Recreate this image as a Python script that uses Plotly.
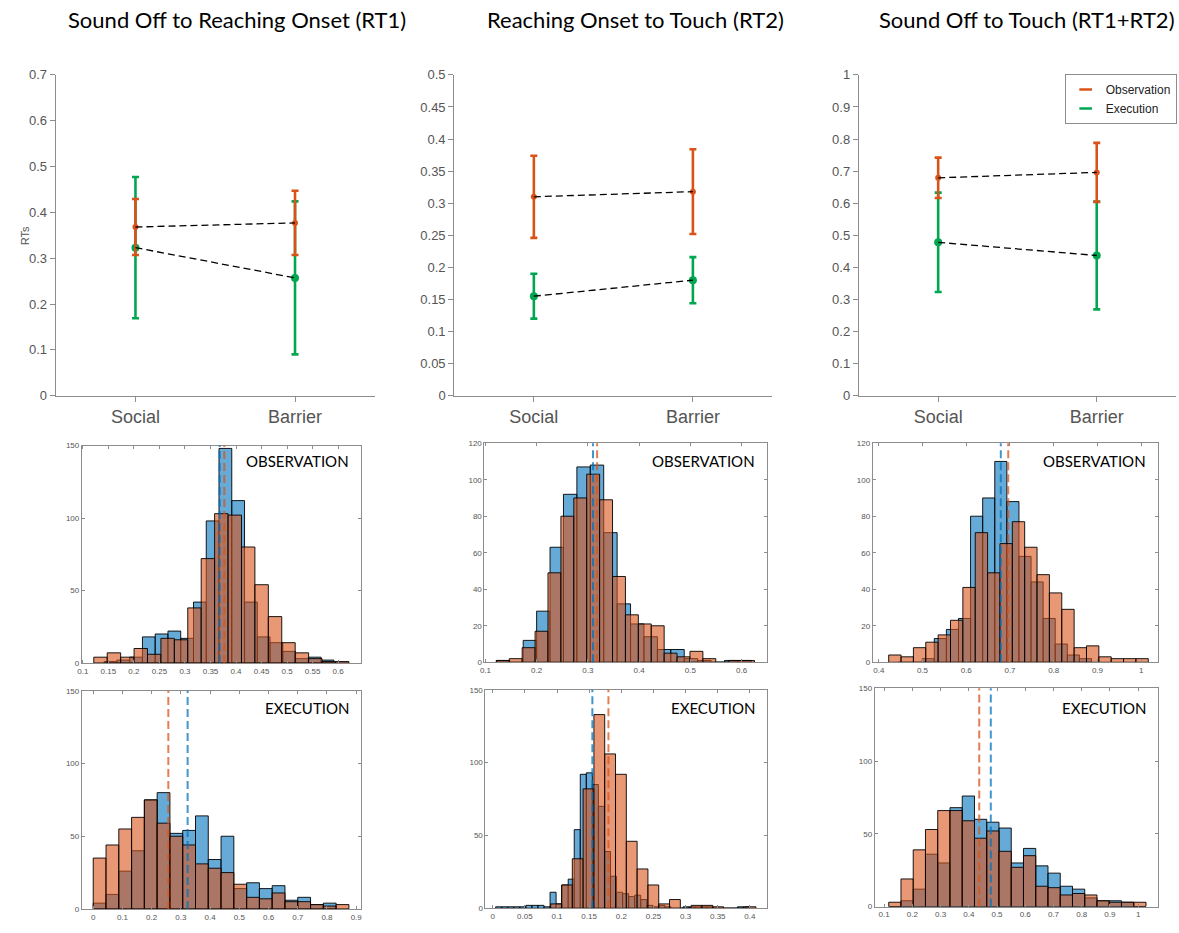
import plotly.graph_objects as go

W, H = 1179, 933

# ---------------------------------------------------------------- data
conditions = ["Social", "Barrier"]
panel_titles = ["Sound Off to Reaching Onset (RT1)",
                "Reaching Onset to Touch (RT2)",
                "Sound Off to Touch (RT1+RT2)"]
series_names = ["Observation", "Execution"]

# mean RT and error bar half-length, per condition (Social, Barrier)
rt1_obs_mean = [0.368, 0.377]
rt1_obs_err = [0.061, 0.070]
rt1_exe_mean = [0.323, 0.257]
rt1_exe_err = [0.154, 0.167]

rt2_obs_mean = [0.310, 0.318]
rt2_obs_err = [0.064, 0.066]
rt2_exe_mean = [0.155, 0.180]
rt2_exe_err = [0.035, 0.036]

tot_obs_mean = [0.679, 0.696]
tot_obs_err = [0.063, 0.092]
tot_exe_mean = [0.478, 0.437]
tot_exe_err = [0.155, 0.168]

top_y_max = [0.7, 0.5, 1.0]
top_y_ticks = [[0, 0.1, 0.2, 0.3, 0.4, 0.5, 0.6, 0.7],
               [0, 0.05, 0.1, 0.15, 0.2, 0.25, 0.3, 0.35, 0.4, 0.45, 0.5],
               [0, 0.1, 0.2, 0.3, 0.4, 0.5, 0.6, 0.7, 0.8, 0.9, 1]]

# histograms: first bin edge, bin width, counts  (soc = Social, bar = Barrier)
rt1_obs_soc_start, rt1_obs_soc_bw = 0.1417, 0.025
rt1_obs_soc_counts = [1, 2, 4, 18, 20, 22, 17, 42, 98, 148, 112, 42, 18, 14, 8, 3, 4, 2]
rt1_obs_bar_start, rt1_obs_bar_bw = 0.1214, 0.0263
rt1_obs_bar_counts = [4, 7, 4, 10, 6, 17, 16, 38, 72, 103, 102, 80, 54, 32, 14, 7, 3, 1, 1]

rt1_exe_soc_start, rt1_exe_soc_bw = 0.0, 0.04375
rt1_exe_soc_counts = [4, 10, 26, 40, 75, 80, 52, 54, 64, 34, 50, 14, 18, 14, 16, 6, 8, 3, 4]
rt1_exe_bar_start, rt1_exe_bar_bw = 0.0, 0.04375
rt1_exe_bar_counts = [35, 44, 55, 63, 75, 59, 50, 44, 31, 28, 25, 17, 8, 7, 11, 5, 5, 3, 2, 3]

rt2_obs_soc_start, rt2_obs_soc_bw = 0.1213, 0.0262
rt2_obs_soc_counts = [1, 0, 12, 28, 63, 92, 107, 108, 71, 32, 21, 14, 7, 7, 2, 1, 0, 1, 1]
rt2_obs_bar_start, rt2_obs_bar_bw = 0.1213, 0.0252
rt2_obs_bar_counts = [1, 2, 8, 17, 49, 80, 90, 103, 89, 47, 26, 21, 20, 5, 3, 6, 2, 0, 1, 1]

rt2_exe_soc_start, rt2_exe_soc_bw = 0.0046, 0.0094
rt2_exe_soc_counts = [1, 1, 1, 1, 1, 2, 2, 2, 1, 11, 3, 16, 20, 54, 92, 93, 85, 70, 39, 22,
                      11, 10, 8, 9, 6, 2, 1, 2, 1, 0, 0, 1, 1, 1, 1, 1, 0, 0, 0, 0, 1, 1]
rt2_exe_bar_start, rt2_exe_bar_bw = 0.0902, 0.0168
rt2_exe_bar_counts = [3, 16, 34, 82, 133, 106, 92, 46, 27, 16, 3, 6, 0, 2, 2, 1, 0, 0, 1]

tot_obs_soc_start, tot_obs_soc_bw = 0.444, 0.02765
tot_obs_soc_counts = [0, 0, 2, 13, 18, 24, 80, 90, 110, 88, 58, 44, 24, 10, 4, 2]
tot_obs_bar_start, tot_obs_bar_bw = 0.4227, 0.02826
tot_obs_bar_counts = [4, 3, 8, 11, 15, 23, 41, 71, 49, 65, 77, 63, 48, 38, 29, 8, 9, 3, 2, 2, 2]

tot_exe_soc_start, tot_exe_soc_bw = 0.1164, 0.0434
tot_exe_soc_counts = [0, 4, 12, 36, 30, 68, 76, 60, 58, 54, 30, 40, 28, 23, 14, 12, 6, 4, 4, 3, 0]
tot_exe_bar_start, tot_exe_bar_bw = 0.1164, 0.0434
tot_exe_bar_counts = [3, 19, 39, 53, 66, 66, 59, 47, 52, 38, 27, 35, 14, 13, 8, 9, 8, 4, 3, 3, 3]

# histogram axis ticks
h1_xticks = [0.1, 0.15, 0.2, 0.25, 0.3, 0.35, 0.4, 0.45, 0.5, 0.55, 0.6]
h2_xticks = [0, 0.1, 0.2, 0.3, 0.4, 0.5, 0.6, 0.7, 0.8, 0.9]
h3_xticks = [0.1, 0.2, 0.3, 0.4, 0.5, 0.6]
h4_xticks = [0, 0.05, 0.1, 0.15, 0.2, 0.25, 0.3, 0.35, 0.4]
h5_xticks = [0.4, 0.5, 0.6, 0.7, 0.8, 0.9, 1]
h6_xticks = [0.1, 0.2, 0.3, 0.4, 0.5, 0.6, 0.7, 0.8, 0.9, 1]
yticks_150 = [0, 50, 100, 150]
yticks_120 = [0, 20, 40, 60, 80, 100, 120]

# ---------------------------------------------------------------- style
OBS_COL = "#D95319"
EXE_COL = "#00A650"
SOC_FILL = "rgba(0,114,189,0.6)"
BAR_FILL = "rgba(217,83,25,0.6)"
SOC_LINE = "rgba(0,114,189,0.75)"
BAR_LINE = "rgba(217,83,25,0.75)"
AX_COL = "#8c8c8c"
TICK_FONT = "Liberation Sans"
TITLE_FONT = "Lato"


def xdom(left, right):
    return [left / W, right / W]


def ydom(top, bottom):
    return [1 - bottom / H, 1 - top / H]


fig = go.Figure()
layout = dict(
    width=W, height=H, autosize=False,
    margin=dict(l=0, r=0, t=0, b=0, pad=0),
    paper_bgcolor="white", plot_bgcolor="white",
    barmode="overlay", showlegend=True,
    font=dict(family=TICK_FONT),
)
annotations = []
shapes = []

# ---------------------------------------------------------------- top row
top_boxes = [(51, 372), (452, 772), (859, 1178)]
top_data = [
    (rt1_obs_mean, rt1_obs_err, rt1_exe_mean, rt1_exe_err),
    (rt2_obs_mean, rt2_obs_err, rt2_exe_mean, rt2_exe_err),
    (tot_obs_mean, tot_obs_err, tot_exe_mean, tot_exe_err),
]
title_centers = [233, 634, 1028]
xpos = list(range(1, len(conditions) + 1))

for i, ((l, r), (om, oe, em, ee)) in enumerate(zip(top_boxes, top_data)):
    n = i + 1
    xa, ya = f"x{n}", f"y{n}"
    layout[f"xaxis{n}"] = dict(
        domain=xdom(l, r), anchor=ya, range=[0.5, 2.5],
        tickvals=xpos, ticktext=conditions,
        showline=True, linecolor=AX_COL, linewidth=1.2,
        ticks="outside", ticklen=5, tickcolor=AX_COL,
        showgrid=False, zeroline=False,
        tickfont=dict(size=18, color="#555555", family=TICK_FONT),
    )
    layout[f"yaxis{n}"] = dict(
        domain=ydom(69, 395), anchor=xa, range=[0, top_y_max[i]],
        tickvals=top_y_ticks[i], ticktext=[f"{v:g}" for v in top_y_ticks[i]],
        showline=True, linecolor=AX_COL, linewidth=1.2,
        ticks="outside", ticklen=5, tickcolor=AX_COL,
        showgrid=False, zeroline=False,
        tickfont=dict(size=13, color="#555555", family=TICK_FONT),
    )
    # execution bars first, observation on top
    fig.add_trace(go.Scatter(
        x=xpos, y=em, mode="markers", xaxis=xa, yaxis=ya, showlegend=False,
        marker=dict(color=EXE_COL, size=8),
        error_y=dict(type="data", array=ee, color=EXE_COL, thickness=2.6, width=3.5),
    ))
    fig.add_trace(go.Scatter(
        x=xpos, y=om, mode="markers", xaxis=xa, yaxis=ya, showlegend=False,
        marker=dict(color=OBS_COL, size=6),
        error_y=dict(type="data", array=oe, color=OBS_COL, thickness=2.6, width=3.5),
    ))
    for means in (om, em):
        fig.add_trace(go.Scatter(
            x=xpos, y=means, mode="lines", xaxis=xa, yaxis=ya, showlegend=False,
            line=dict(color="black", width=1.3, dash="7px,4px"),
        ))
    annotations.append(dict(
        text=panel_titles[i], x=title_centers[i] / W, y=1 - 13 / H,
        xref="paper", yref="paper", xanchor="center", yanchor="middle",
        showarrow=False, font=dict(size=22, color="black", family=TITLE_FONT),
    ))

annotations.append(dict(
    text="RTs", x=20 / W, y=1 - 232 / H, xref="paper", yref="paper",
    textangle=-90, showarrow=False, xanchor="center", yanchor="middle",
    font=dict(size=11, color="#555555", family=TICK_FONT),
))

# legend entries (short coloured dashes)
for name, col in zip(series_names, (OBS_COL, EXE_COL)):
    fig.add_trace(go.Scatter(
        x=[None], y=[None], mode="markers", name=name, xaxis="x3", yaxis="y3",
        marker=dict(symbol="line-ew", size=9, line=dict(color=col, width=2.5)),
    ))
layout["legend"] = dict(
    x=1066 / W, y=1 - 68 / H, xanchor="left", yanchor="top",
    bgcolor="white", bordercolor=AX_COL, borderwidth=1,
    font=dict(size=12, color="#222222", family=TICK_FONT),
    itemwidth=30, tracegroupgap=0,
)

# ---------------------------------------------------------------- histograms
hists = [
    # box (left, right, top, bottom), x range, x ticks, y max, y ticks, label, label y,
    # soc bins, bar bins, means
    ((77.3, 357.7, 445.7, 666.7), [0.098, 0.644], h1_xticks, 150, yticks_150, "OBSERVATION", 461,
     (rt1_obs_soc_start, rt1_obs_soc_bw, rt1_obs_soc_counts),
     (rt1_obs_bar_start, rt1_obs_bar_bw, rt1_obs_bar_counts), rt1_obs_mean),
    ((77.3, 357.7, 695.0, 916.7), [-0.039, 0.915], h2_xticks, 150, yticks_150, "EXECUTION", 712,
     (rt1_exe_soc_start, rt1_exe_soc_bw, rt1_exe_soc_counts),
     (rt1_exe_bar_start, rt1_exe_bar_bw, rt1_exe_bar_counts), rt1_exe_mean),
    ((482.3, 766.7, 443.3, 666.0), [0.098, 0.650], h3_xticks, 120, yticks_120, "OBSERVATION", 461,
     (rt2_obs_soc_start, rt2_obs_soc_bw, rt2_obs_soc_counts),
     (rt2_obs_bar_start, rt2_obs_bar_bw, rt2_obs_bar_counts), rt2_obs_mean),
    ((483.3, 766.7, 694.0, 916.0), [-0.0113, 0.4268], h4_xticks, 150, yticks_150, "EXECUTION", 712,
     (rt2_exe_soc_start, rt2_exe_soc_bw, rt2_exe_soc_counts),
     (rt2_exe_bar_start, rt2_exe_bar_bw, rt2_exe_bar_counts), rt2_exe_mean),
    ((873.0, 1160.0, 443.3, 666.0), [0.3864, 1.0386], h5_xticks, 120, yticks_120, "OBSERVATION", 461,
     (tot_obs_soc_start, tot_obs_soc_bw, tot_obs_soc_counts),
     (tot_obs_bar_start, tot_obs_bar_bw, tot_obs_bar_counts), tot_obs_mean),
    ((875.0, 1160.0, 692.5, 914.3), [0.0671, 1.0707], h6_xticks, 150, yticks_150, "EXECUTION", 712,
     (tot_exe_soc_start, tot_exe_soc_bw, tot_exe_soc_counts),
     (tot_exe_bar_start, tot_exe_bar_bw, tot_exe_bar_counts), tot_exe_mean),
]

for j, (box, xr, xt, ymax, yt, label, label_y, soc, bar, means) in enumerate(hists):
    n = j + 4
    xa, ya = f"x{n}", f"y{n}"
    l, r, t, b = box
    common = dict(showline=True, linecolor=AX_COL, linewidth=1, mirror="allticks",
                  ticks="inside", ticklen=3, tickcolor=AX_COL,
                  showgrid=False, zeroline=False,
                  tickfont=dict(size=8, color="#555555", family=TICK_FONT))
    layout[f"xaxis{n}"] = dict(domain=xdom(l, r), anchor=ya, range=xr,
                               tickvals=xt, ticktext=[f"{v:g}" for v in xt], **common)
    layout[f"yaxis{n}"] = dict(domain=ydom(t, b), anchor=xa, range=[0, ymax],
                               tickvals=yt, ticktext=[f"{v:g}" for v in yt], **common)
    for (start, bw, counts), fill in ((soc, SOC_FILL), (bar, BAR_FILL)):
        centers = [start + bw * (k + 0.5) for k in range(len(counts))]
        fig.add_trace(go.Bar(
            x=centers, y=counts, width=bw, xaxis=xa, yaxis=ya, showlegend=False,
            marker=dict(color=fill, line=dict(color="black", width=0.9)),
            hoverinfo="skip",
        ))
    for m, col in ((means[0], SOC_LINE), (means[1], BAR_LINE)):
        shapes.append(dict(type="line", xref=xa, yref=f"{ya} domain",
                           x0=m, x1=m, y0=0, y1=1,
                           line=dict(color=col, width=2, dash="8px,4px")))
    annotations.append(dict(
        text=label, x=(r - 10) / W, y=1 - label_y / H, xref="paper", yref="paper",
        xanchor="right", yanchor="middle", showarrow=False,
        font=dict(size=15, color="black", family=TITLE_FONT),
    ))

layout["annotations"] = annotations
layout["shapes"] = shapes
fig.update_layout(**layout)
fig.write_html("out.html")
